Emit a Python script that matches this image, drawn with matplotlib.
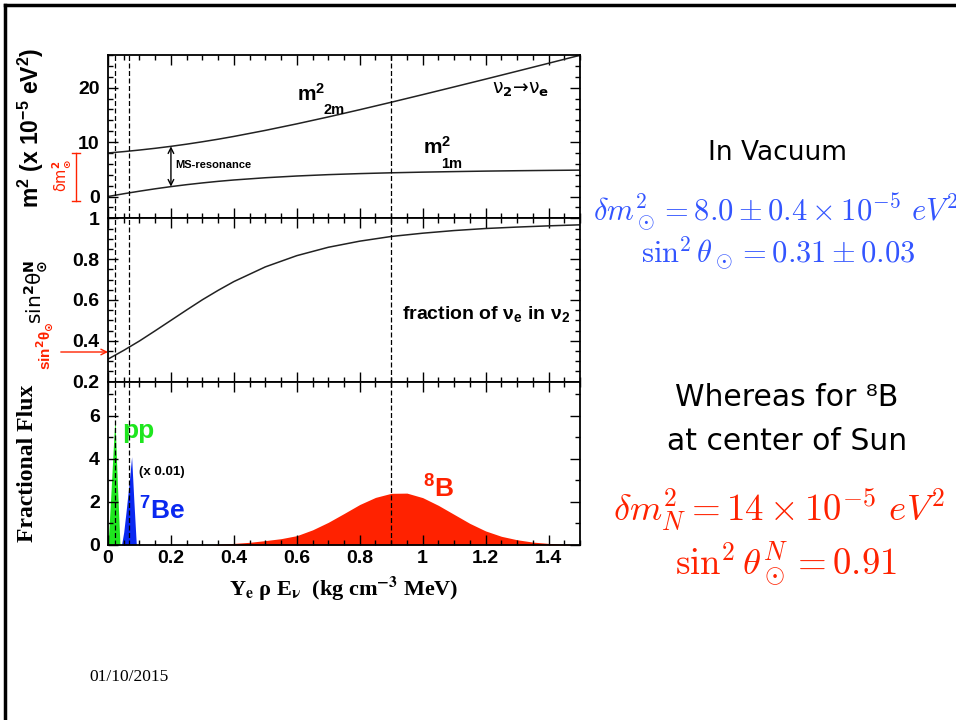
import matplotlib
matplotlib.use("Agg")
import matplotlib.pyplot as plt
from matplotlib.lines import Line2D
from matplotlib.ticker import MultipleLocator, FuncFormatter

# x axis: Y_e rho E_nu (kg cm^-3 MeV)
x_vals = [0.0, 0.05, 0.1, 0.15, 0.2, 0.25, 0.3, 0.35, 0.4, 0.5,
          0.6, 0.7, 0.8, 0.9, 1.0, 1.1, 1.2, 1.3, 1.4, 1.5]
# matter mass eigenvalues (x 1e-5 eV^2)
m2_2m = [8.00, 8.25, 8.54, 8.86, 9.22, 9.62, 10.06, 10.53, 11.04, 12.15,
         13.35, 14.62, 15.95, 17.32, 18.72, 20.14, 21.57, 23.02, 24.48, 25.95]
m2_1m = [0.00, 0.51, 0.98, 1.42, 1.82, 2.18, 2.50, 2.79, 3.04, 3.45,
         3.77, 4.02, 4.21, 4.36, 4.48, 4.58, 4.67, 4.74, 4.80, 4.85]
# fraction of nu_e in nu_2
sin2_theta_n = [0.310, 0.353, 0.399, 0.449, 0.500, 0.551, 0.601, 0.647, 0.690, 0.762,
                0.817, 0.858, 0.888, 0.911, 0.927, 0.940, 0.950, 0.957, 0.963, 0.968]
res_idx = 4  # MS resonance at x = 0.2

# dashed reference lines
dash_x = [0.022, 0.067, 0.9]

# fractional flux spectra
pp_x = [0.0, 0.004, 0.010, 0.016, 0.022, 0.030, 0.038]
pp_y = [0.0, 1.0, 2.6, 4.3, 5.9, 2.8, 0.0]
be_x = [0.043, 0.050, 0.057, 0.068, 0.075, 0.082, 0.090]
be_y = [0.0, 0.6, 1.5, 3.0, 4.1, 2.1, 0.0]
b8_x = [0.33, 0.35, 0.40, 0.45, 0.50, 0.55, 0.60, 0.65, 0.70, 0.75, 0.80, 0.85, 0.90,
        0.95, 1.00, 1.05, 1.10, 1.15, 1.20, 1.25, 1.30, 1.35, 1.40, 1.45, 1.50]
b8_y = [0.0, 0.03, 0.07, 0.12, 0.20, 0.29, 0.43, 0.70, 1.05, 1.46, 1.88, 2.21, 2.40,
        2.41, 2.20, 1.84, 1.42, 1.00, 0.65, 0.40, 0.24, 0.13, 0.07, 0.04, 0.02]

GREEN = "#1ee61e"
BLUE = "#0a28f0"
RED = "#ff2200"
LBLUE = "#3355ff"

plt.rcParams['font.family'] = ['Liberation Sans', 'DejaVu Sans']
plt.rcParams['font.weight'] = 'bold'
plt.rcParams['mathtext.fontset'] = 'custom'
plt.rcParams['mathtext.rm'] = 'Liberation Sans:bold'
plt.rcParams['mathtext.bf'] = 'Liberation Sans:bold'
plt.rcParams['mathtext.it'] = 'Liberation Sans:bold'
plt.rcParams['mathtext.sf'] = 'Liberation Sans:bold'
plt.rcParams['axes.linewidth'] = 1.3

fig = plt.figure(figsize=(9.56, 7.2), dpi=100)

left = 108 / 956
width = 472 / 956
h = 163.3 / 720
ax1 = fig.add_axes([left, 1 - (55 + h * 720) / 720, width, h])
ax2 = fig.add_axes([left, 1 - (55 + 2 * h * 720) / 720, width, h])
ax3 = fig.add_axes([left, 1 - (55 + 3 * h * 720) / 720, width, h])

fmt = FuncFormatter(lambda v, p: f"{v:g}")
for ax in (ax1, ax2, ax3):
    ax.set_xlim(0, 1.5)
    ax.xaxis.set_major_locator(MultipleLocator(0.2))
    ax.xaxis.set_minor_locator(MultipleLocator(0.05))
    ax.xaxis.set_major_formatter(fmt)
    ax.yaxis.set_major_formatter(fmt)
    ax.tick_params(which='both', direction='in', top=True, right=True, width=1)
    ax.tick_params(which='major', length=7, labelsize=14)
    ax.tick_params(which='minor', length=3.5)
    ax.tick_params(axis='y', pad=6)
    ax.tick_params(axis='x', pad=4)
    for xv in dash_x:
        ax.axvline(xv, color='black', lw=0.9, ls=(0, (4, 2)), zorder=5)
ax1.tick_params(labelbottom=False)
ax2.tick_params(labelbottom=False)

# --- top panel: mass eigenvalues
ax1.set_ylim(-4, 26)
ax1.yaxis.set_major_locator(MultipleLocator(10))
ax1.yaxis.set_minor_locator(MultipleLocator(2))
ax1.plot(x_vals, m2_2m, color='#222222', lw=1.1)
ax1.plot(x_vals, m2_1m, color='#222222', lw=1.1)
ax1.annotate('', xy=(x_vals[res_idx], m2_1m[res_idx]), xytext=(x_vals[res_idx], m2_2m[res_idx]),
             arrowprops=dict(arrowstyle='<->', lw=1, color='black', shrinkA=0, shrinkB=0))
ax1.text(0.213, 5.7, "MS-resonance", fontsize=8, ha='left', va='center')
ax1.text(0.60, 18.8, r"m$^{2}$", fontsize=15, ha='left', va='center')
ax1.text(0.685, 15.9, "2m", fontsize=10.5, ha='left', va='center')
ax1.text(1.00, 9.2, r"m$^{2}$", fontsize=15, ha='left', va='center')
ax1.text(1.06, 6.0, "1m", fontsize=10.5, ha='left', va='center')
ax1.text(1.22, 19.6, r"ν$_\mathrm{2}$→ν$_\mathrm{e}$", fontsize=13.5, family='DejaVu Sans',
         ha='left', va='center', weight='normal', math_fontfamily='dejavusans')
# red bracket showing delta m^2 in vacuum
ytr1 = ax1.get_yaxis_transform()
bx = -0.068
ax1.plot([bx, bx], [m2_1m[0] - 0.8, m2_2m[0]], color=RED, lw=1, transform=ytr1, clip_on=False)
for yv in (m2_1m[0] - 0.8, m2_2m[0]):
    ax1.plot([bx - 0.009, bx + 0.009], [yv, yv], color=RED, lw=1, transform=ytr1, clip_on=False)

# --- middle panel: sin^2 theta in matter
ax2.set_ylim(0.2, 1.0)
ax2.yaxis.set_major_locator(MultipleLocator(0.2))
ax2.yaxis.set_minor_locator(MultipleLocator(0.05))
ax2.plot(x_vals, sin2_theta_n, color='#222222', lw=1.1)
ax2.text(0.933, 0.53, r"fraction of ν$_e$ in ν$_2$", fontsize=14, ha='left', va='center')
ax2.annotate('', xy=(0, 0.345), xytext=(-0.10, 0.345), xycoords=ax2.get_yaxis_transform(),
             arrowprops=dict(arrowstyle='->', lw=1, color=RED, shrinkA=0, shrinkB=0),
             annotation_clip=False)

# --- bottom panel: fractional flux
ax3.set_ylim(0, 7.6)
ax3.yaxis.set_major_locator(MultipleLocator(2))
ax3.yaxis.set_minor_locator(MultipleLocator(1))
ax3.fill_between(pp_x, pp_y, color=GREEN, lw=0)
ax3.fill_between(be_x, be_y, color=BLUE, lw=0)
ax3.fill_between(b8_x, b8_y, color=RED, lw=0)
ax3.text(0.046, 5.3, "pp", fontsize=19, color=GREEN, ha='left', va='center')
ax3.text(0.10, 3.4, "(x 0.01)", fontsize=9.5, ha='left', va='center')
ax3.text(0.10, 1.6, r"$^{7}$Be", fontsize=19, color=BLUE, ha='left', va='center')
ax3.text(1.00, 2.6, r"$^{8}$B", fontsize=19, color=RED, ha='left', va='center')
ax3.set_xlabel(r"Y$_\mathbf{e}$ ρ E$_\mathbf{\nu}$  (kg cm$^\mathbf{-3}$ MeV)",
               fontsize=16, family='Liberation Serif', weight='bold', math_fontfamily='stix',
               labelpad=5)

# --- axis titles on the left
fig.text(31 / 956, 1 - 128 / 720, r"m$^{2}$ (x 10$^{-5}$ eV$^{2}$)", rotation=90,
         fontsize=16.5, ha='center', va='center')
fig.text(62 / 956, 1 - 176 / 720, r"δm$^{2}_{\odot}$", rotation=90, fontsize=10.5,
         family='DejaVu Sans', color=RED, ha='center', va='center', weight='normal',
         math_fontfamily='dejavusans')
fig.text(36 / 956, 1 - 292 / 720, r"sin$^{2}$θ$^{\mathrm{N}}_{\odot}$", rotation=90,
         fontsize=14.5, family='DejaVu Sans', ha='center', va='center', weight='normal',
         math_fontfamily='dejavusans')
fig.text(45 / 956, 1 - 346 / 720, r"sin$^{2}$θ$_{\odot}$", rotation=90, fontsize=11,
         color=RED, ha='center', va='center', math_fontfamily='dejavusans')
fig.text(28 / 956, 1 - 463 / 720, "Fractional Flux", rotation=90, fontsize=17,
         family='Liberation Serif', weight='bold', ha='center', va='center')

# --- right-hand notes
fig.text(778 / 956, 1 - 153 / 720, "In Vacuum", fontsize=19, family='DejaVu Sans',
         weight='normal', ha='center', va='center')
fig.text(593 / 956, 1 - 212 / 720, r"$\delta m^2_\odot = 8.0 \pm 0.4 \times 10^{-5}\ eV^2$",
         fontsize=22, color=LBLUE, ha='left', va='center', math_fontfamily='cm')
fig.text(778 / 956, 1 - 253 / 720, r"$\sin^2\theta_\odot = 0.31 \pm 0.03$",
         fontsize=22, color=LBLUE, ha='center', va='center', math_fontfamily='cm')
fig.text(787 / 956, 1 - 398 / 720, "Whereas for ⁸B", fontsize=21.5, family='DejaVu Sans',
         weight='normal', ha='center', va='center')
fig.text(787 / 956, 1 - 442 / 720, "at center of Sun", fontsize=21.5, family='DejaVu Sans',
         weight='normal', ha='center', va='center')
fig.text(613 / 956, 1 - 510 / 720, r"$\delta m^2_N = 14 \times 10^{-5}\ eV^2$",
         fontsize=26.5, color=RED, ha='left', va='center', math_fontfamily='cm')
fig.text(786 / 956, 1 - 564 / 720, r"$\sin^2\theta^N_\odot = 0.91$",
         fontsize=26.5, color=RED, ha='center', va='center', math_fontfamily='cm')

fig.text(89 / 956, 1 - 677 / 720, "01/10/2015", fontsize=12.5, family='Liberation Serif',
         weight='normal', ha='left', va='center')

# slide frame
fig.add_artist(Line2D([5 / 956, 1], [1 - 5 / 720, 1 - 5 / 720], transform=fig.transFigure,
                      color='black', lw=2.5))
fig.add_artist(Line2D([5 / 956, 5 / 956], [0, 1 - 5 / 720], transform=fig.transFigure,
                      color='black', lw=2.5))

fig.savefig("out.png", dpi=100)
